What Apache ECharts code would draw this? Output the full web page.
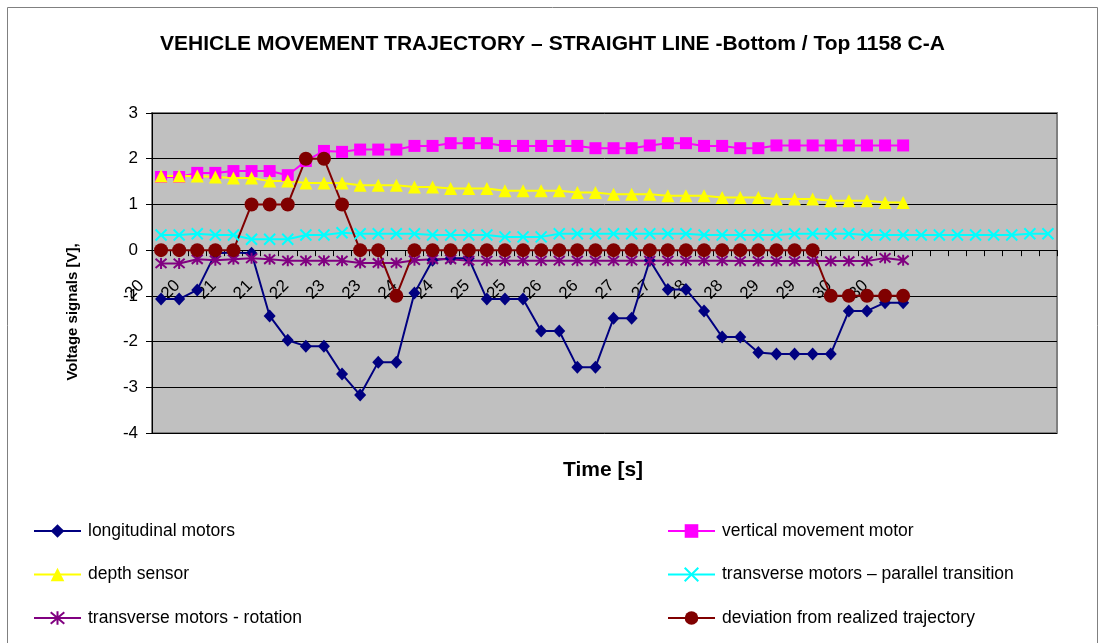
<!DOCTYPE html>
<html>
<head>
<meta charset="utf-8">
<script src="https://cdn.jsdelivr.net/npm/echarts@6/dist/echarts.min.js"></script>
<style>html,body{margin:0;padding:0;background:#fff;}#c{width:1105px;height:643px;}</style>
</head>
<body>
<div id="c"></div>
<script>
// ---- data ----
const tickLabels = ['20','20','21','21','22','23','23','24','24','25','25','26','26','27','27','28','28','29','29','30','30'];
const longitudinal = [-1.07,-1.07,-0.87,-0.07,-0.05,-0.07,-1.44,-1.97,-2.1,-2.1,-2.71,-3.17,-2.45,-2.45,-0.94,-0.22,-0.18,-0.18,-1.07,-1.07,-1.07,-1.77,-1.77,-2.56,-2.56,-1.49,-1.49,-0.22,-0.86,-0.86,-1.33,-1.9,-1.9,-2.24,-2.27,-2.27,-2.27,-2.27,-1.33,-1.33,-1.15,-1.15];
const vertical = [1.6,1.6,1.69,1.69,1.73,1.73,1.73,1.64,1.95,2.17,2.15,2.2,2.2,2.2,2.28,2.28,2.34,2.34,2.34,2.28,2.28,2.28,2.28,2.28,2.23,2.23,2.23,2.29,2.34,2.34,2.28,2.28,2.23,2.23,2.29,2.29,2.29,2.29,2.29,2.29,2.29,2.29];
const depth = [1.62,1.62,1.62,1.6,1.58,1.58,1.51,1.51,1.47,1.47,1.47,1.42,1.42,1.42,1.38,1.38,1.35,1.35,1.35,1.3,1.3,1.3,1.3,1.26,1.26,1.22,1.22,1.22,1.19,1.19,1.19,1.15,1.15,1.15,1.12,1.12,1.12,1.08,1.08,1.08,1.04,1.04];
const parallel = [0.33,0.33,0.36,0.33,0.33,0.24,0.24,0.24,0.33,0.33,0.38,0.36,0.36,0.36,0.36,0.33,0.33,0.33,0.33,0.29,0.29,0.29,0.36,0.36,0.36,0.36,0.36,0.36,0.36,0.36,0.33,0.33,0.33,0.33,0.33,0.36,0.36,0.36,0.36,0.33,0.33,0.33,0.33,0.33,0.33,0.33,0.33,0.33,0.36,0.36];
const rotation = [-0.29,-0.29,-0.2,-0.22,-0.2,-0.18,-0.2,-0.23,-0.23,-0.23,-0.23,-0.28,-0.28,-0.28,-0.22,-0.2,-0.2,-0.23,-0.23,-0.23,-0.23,-0.23,-0.23,-0.23,-0.23,-0.23,-0.23,-0.23,-0.23,-0.23,-0.23,-0.23,-0.24,-0.24,-0.24,-0.24,-0.24,-0.24,-0.24,-0.24,-0.17,-0.22];
const deviation = [0,0,0,0,0,1,1,1,2,2,1,0,0,-1,0,0,0,0,0,0,0,0,0,0,0,0,0,0,0,0,0,0,0,0,0,0,0,-1,-1,-1,-1,-1];
const yTicks = {min:-4, max:3, interval:1};

const names = ['longitudinal motors','vertical movement motor','depth sensor','transverse motors \u2013 parallel transition','transverse motors - rotation','deviation from realized trajectory'];

// category axis built from the longest series; tick labels every second category
const nCat = Math.max(longitudinal.length, vertical.length, depth.length, parallel.length, rotation.length, deviation.length);
const categories = [];
for (let i = 0; i < nCat; i++) {
  categories.push((i % 2 === 0 && i / 2 < tickLabels.length) ? tickLabels[i / 2] : '');
}

const FONT = 'Liberation Sans, Arial, sans-serif';
const crossPath = 'path://M0,0L10,10M10,0L0,10';
const starPath = 'path://M0,0L10,10M10,0L0,10M5,-1L5,11';

const GRID = {left: 152, right: 48, top: 113, bottom: 210};
const plotH = 643 - GRID.top - GRID.bottom;
// shift the category axis up to the value 0 (axis crosses at zero, labels included)
const zeroOffset = -plotH * (0 - yTicks.min) / (yTicks.max - yTicks.min);

function ser(name, data, color, symbol, size, extra) {
  return Object.assign({
    name: name, type: 'line', data: data, symbol: symbol, symbolSize: size,
    showAllSymbol: true, animation: false,
    lineStyle: {color: color, width: 2},
    itemStyle: {color: color},
    emphasis: {disabled: true}
  }, extra || {});
}

const legendCommon = {
  orient: 'vertical', top: 522, padding: 0, itemWidth: 47, itemHeight: 17, itemGap: 25.5,
  textStyle: {fontFamily: FONT, fontSize: 17.5, color: '#000', padding: [0, 0, 0, 2]},
  selectedMode: false
};

const chart = echarts.init(document.getElementById('c'), null, {renderer: 'canvas'});
chart.setOption({
  animation: false,
  backgroundColor: '#ffffff',
  title: {
    text: 'VEHICLE MOVEMENT TRAJECTORY \u2013 STRAIGHT LINE -Bottom / Top 1158 C-A',
    left: 'center', top: 29,
    textStyle: {fontFamily: FONT, fontSize: 21, fontWeight: 'bold', color: '#000'}
  },
  grid: Object.assign({show: true, backgroundColor: '#C0C0C0', borderColor: '#808080', borderWidth: 2}, GRID),
  xAxis: {
    type: 'category', data: categories, boundaryGap: true,
    position: 'bottom', offset: zeroOffset,
    axisLine: {onZero: false, lineStyle: {color: '#000', width: 1}},
    axisTick: {show: true, interval: 0, alignWithLabel: false, length: 6, lineStyle: {color: '#000'}},
    axisLabel: {interval: 0, rotate: 45, margin: 13, padding: [0, 28, 0, 0], fontFamily: FONT, fontSize: 17, color: '#000'},
    splitLine: {show: false}
  },
  yAxis: {
    type: 'value', min: yTicks.min, max: yTicks.max, interval: yTicks.interval,
    axisLine: {show: true, lineStyle: {color: '#000', width: 1}},
    axisTick: {show: true, length: 6, lineStyle: {color: '#000'}},
    axisLabel: {margin: 14, fontFamily: FONT, fontSize: 17, color: '#000'},
    splitLine: {show: true, lineStyle: {color: '#000', width: 1}}
  },
  legend: [
    Object.assign({left: 33, data: [names[0], names[2], names[4]]}, legendCommon),
    Object.assign({left: 667, data: [names[1], names[3], names[5]]}, legendCommon)
  ],
  graphic: [
    {type: 'rect', silent: true, z: -10, shape: {x: 7.5, y: 7.5, width: 1090, height: 660}, style: {fill: 'none', stroke: '#808080', lineWidth: 1}},
    {type: 'text', silent: true, x: 603, y: 470, style: {text: 'Time [s]', font: 'bold 21px ' + FONT, fill: '#000', align: 'center', verticalAlign: 'middle'}},
    {type: 'text', silent: true, x: 73, y: 312, rotation: Math.PI / 2, style: {text: 'Voltage signals [V],', font: 'bold 15px ' + FONT, fill: '#000', align: 'center', verticalAlign: 'middle'}}
  ],
  series: [
    ser(names[0], longitudinal, '#000080', 'diamond', [12, 13]),
    ser(names[1], vertical, '#FF00FF', 'rect', 12),
    ser(names[2], depth, '#FFFF00', 'triangle', 13),
    ser(names[3], parallel, '#00FFFF', crossPath, 11, {itemStyle: {color: '#00FFFF', borderColor: '#00FFFF', borderWidth: 2}}),
    ser(names[4], rotation, '#800080', starPath, 11, {itemStyle: {color: '#800080', borderColor: '#800080', borderWidth: 2}}),
    ser(names[5], deviation, '#800000', 'circle', 14)
  ]
});
</script>
</body>
</html>
